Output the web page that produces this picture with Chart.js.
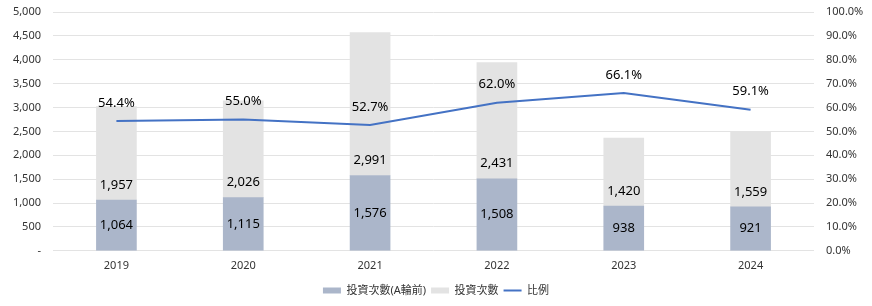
<!DOCTYPE html>
<html><head><meta charset="utf-8">
<script src="https://cdn.jsdelivr.net/npm/chart.js@4/dist/chart.umd.min.js"></script>
<style>html,body{margin:0;padding:0;background:#fff}#wrap{width:872px;height:306px}</style>
</head><body><div id="wrap"><canvas id="c" width="872" height="306"></canvas></div>
<script>
const categories = ['2019','2020','2021','2022','2023','2024'];
const preA = [1064,1115,1576,1508,938,921];
const invest = [1957,2026,2991,2431,1420,1559];
const ratio = [54.4,55.0,52.7,62.0,66.1,59.1];
const seriesNames = ['投資次數(A輪前)','投資次數','比例'];

const FONT = '"Noto Sans", "Noto Sans CJK TC", sans-serif';
const fmt = v => v.toLocaleString('en-US');

const labelPlugin = {
  id:'labels',
  afterDatasetsDraw(chart){
    const ctx = chart.ctx;
    ctx.save();
    ctx.font = '13px ' + FONT;
    ctx.fillStyle = '#000';
    ctx.textAlign = 'center';
    ctx.textBaseline = 'middle';
    const mLine = chart.getDatasetMeta(0), mPre = chart.getDatasetMeta(1), mInv = chart.getDatasetMeta(2);
    mPre.data.forEach((el,i)=>{
      ctx.fillText(fmt(preA[i]), el.x, (el.y + el.base)/2);
    });
    mInv.data.forEach((el,i)=>{
      ctx.fillText(fmt(invest[i]), el.x, el.base - 15);
    });
    mLine.data.forEach((el,i)=>{
      ctx.fillText(ratio[i].toFixed(1)+'%', el.x, el.y - 18);
    });
    ctx.restore();
  }
};

const vFit = w => s => { s.width = w; s.paddingTop = 0; s.paddingBottom = 0; };

new Chart(document.getElementById('c'), {
  data:{
    labels:categories,
    datasets:[
      {type:'line', label:seriesNames[2], data:ratio, yAxisID:'y1', borderColor:'#4472C4', backgroundColor:'#4472C4', borderWidth:2, pointRadius:0, pointStyle:'line', order:0, tension:0},
      {type:'bar', label:seriesNames[0], data:preA, yAxisID:'y', backgroundColor:'#ABB6CA', borderWidth:0, barThickness:40, pointStyle:'rect', stack:'s', order:1},
      {type:'bar', label:seriesNames[1], data:invest, yAxisID:'y', backgroundColor:'#E3E3E3', borderWidth:0, barThickness:40, pointStyle:'rect', stack:'s', order:1}
    ]
  },
  options:{
    responsive:false, animation:false,
    layout:{padding:{left:0,right:0,top:12,bottom:0}},
    plugins:{
      legend:{position:'bottom',
        labels:{usePointStyle:true, pointStyleWidth:18, boxHeight:6, font:{size:11, family:FONT}, color:'#333', padding:5,
          sort:(a,b)=>{const o=[1,2,0];return o.indexOf(a.datasetIndex)-o.indexOf(b.datasetIndex);}
        }},
      tooltip:{enabled:false}
    },
    scales:{
      x:{stacked:true, grid:{display:false, drawTicks:false}, border:{display:false}, ticks:{font:{size:11,family:FONT}, color:'#333', padding:8}},
      y:{stacked:true, min:0, max:5000, position:'left',
        afterFit:vFit(53),
        ticks:{stepSize:500, font:{size:11,family:FONT}, color:'#333', padding:12, callback:v=> v===0?'-':fmt(v)},
        grid:{color:'#E3E3E3', lineWidth:1, drawTicks:false}, border:{display:false}},
      y1:{min:0, max:100, position:'right',
        afterFit:vFit(58),
        ticks:{stepSize:10, font:{size:11,family:FONT}, color:'#333', padding:12, callback:v=> v.toFixed(1)+'%'},
        grid:{display:false, drawTicks:false}, border:{display:false}}
    }
  },
  plugins:[labelPlugin]
});
</script></body></html>
